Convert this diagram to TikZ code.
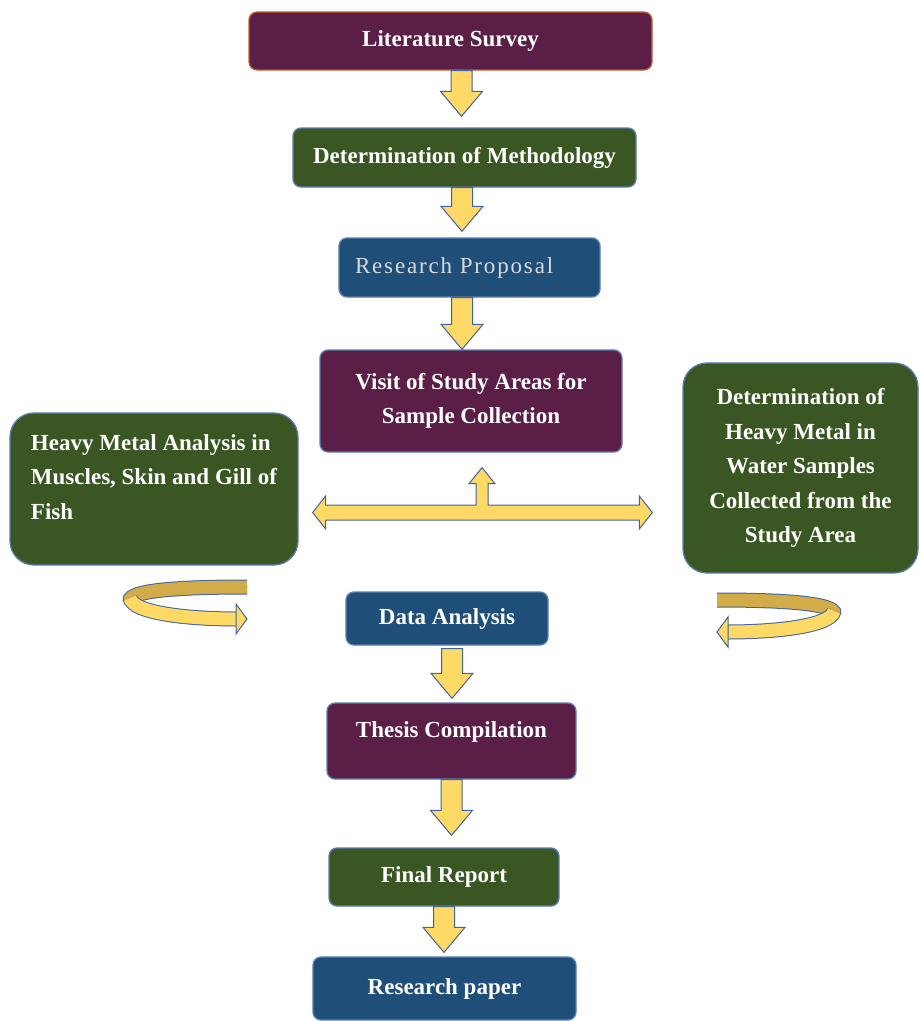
\documentclass[tikz,border=0pt]{standalone}
\usepackage{fontspec}
\setmainfont{Liberation Serif}
\newfontfamily\spacedfont[LetterSpace=8]{Liberation Serif}
\usetikzlibrary{calc}

\definecolor{boxpurple}{HTML}{5B1F47}
\definecolor{boxgreen}{HTML}{3A5622}
\definecolor{boxblue}{HTML}{1F4E79}
\definecolor{rimblue}{HTML}{5B7DB1}
\definecolor{rimorange}{HTML}{C0602A}
\definecolor{proptext}{HTML}{DADADA}
\definecolor{arrowyellow}{HTML}{FFD966}
\definecolor{arrowback}{HTML}{D2AC48}
\definecolor{arrowrim}{HTML}{3E63A0}

\tikzset{
  stage/.style={rounded corners=8pt, draw=rimblue, line width=1.3pt, text=white,
    font=\bfseries\fontsize{23}{34.5}\selectfont, align=center, inner sep=0pt},
  purplestage/.style={stage, fill=boxpurple},
  greenstage/.style={stage, fill=boxgreen},
  bluestage/.style={stage, fill=boxblue},
  blockarrow/.style={fill=arrowyellow, draw=arrowrim, line width=1pt, line join=miter},
  ribbon/.style={line width=13pt, line cap=butt, draw=#1,
    preaction={draw=arrowrim, line width=15pt}},
  turn/.pic={
    \draw[ribbon=arrowback] (0,-32) .. controls (-90,-32) and (-120,-26) .. (-117,-17);
    \draw[ribbon=arrowyellow] (-117,-21) .. controls (-114,-6) and (-60,0) .. (-10,0);
    \draw[blockarrow] (-11,-15) -- (0,0) -- (-11,15) -- cycle;
  }
}

% yellow block arrow: start point, tip point
\newcommand\flowarrow[2]{%
  \draw[blockarrow] let \p1=#1, \p2=#2 in
    (\x1-10.5pt,\y1) -- (\x1+10.5pt,\y1) -- (\x1+10.5pt,\y2+25pt) -- (\x1+21pt,\y2+25pt)
    -- (\x1,\y2) -- (\x1-21pt,\y2+25pt) -- (\x1-10.5pt,\y2+25pt) -- cycle;}

\begin{document}
\begin{tikzpicture}[x=1pt,y=-1pt]
\useasboundingbox (0,0) rectangle (920,1021);

% main column
\node[purplestage, draw=rimorange, minimum width=403pt, minimum height=58pt] (lit) at (450.5,41) {Literature Survey};
\node[greenstage, minimum width=343pt, minimum height=59pt] (meth) at (464.5,157.5) {Determination of Methodology};
\node[bluestage, minimum width=261pt, minimum height=59pt, text width=229pt, inner xsep=16pt, align=left,
  font=\spacedfont\fontsize{23}{34.5}\selectfont, text=proptext] (prop) at (469.5,267.5) {Research Proposal};
\node[purplestage, minimum width=302pt, minimum height=102pt] (visit) at (471,401) {Visit of Study Areas for\\ Sample Collection};
\node[bluestage, minimum width=202pt, minimum height=53pt] (data) at (447,618.5) {Data Analysis};
\node[purplestage, minimum width=249pt, minimum height=76pt] (thesis) at (451.5,741) {Thesis Compilation\\[-12pt]~};
\node[greenstage, minimum width=230pt, minimum height=58pt] (final) at (444,877) {Final Report};
\node[bluestage, minimum width=263pt, minimum height=63pt] (paper) at (444.5,988.5) {Research paper};

% side boxes
\node[greenstage, rounded corners=24pt, minimum width=288pt, minimum height=152pt, align=left] (heavy) at (154,489)
  {Heavy Metal Analysis in\\ Muscles, Skin and Gill of\\ Fish\\[-10pt]~};
\node[greenstage, rounded corners=24pt, minimum width=235pt, minimum height=210pt] (water) at (800.5,468)
  {Determination of\\ Heavy Metal in\\ Water Samples\\ Collected from the\\ Study Area};

% arrows down the column
\flowarrow{($(lit.south)+(11,0)$)}{($(meth.north)+(0,-11)$)}
\flowarrow{($(meth.south)+(-2.5,0)$)}{($(prop.north)+(0,-6)$)}
\flowarrow{($(prop.south)+(-7.5,0)$)}{(visit.north)}
\flowarrow{($(data.south)+(5,3)$)}{($(thesis.north)+(0,-4)$)}
\flowarrow{(thesis.south)}{($(final.north)+(0,-12)$)}
\flowarrow{(final.south)}{($(paper.north)+(0,-4)$)}

% branching arrow
\coordinate (hub) at (482,512.5);
\draw[blockarrow] let \p1=(heavy.east), \p2=(water.west), \p3=(hub), \p4=(visit.south) in
  (\x1+14pt,\y3) -- (\x1+27pt,\y3+16.5pt) -- (\x1+27pt,\y3+7.5pt) -- (\x3-6pt,\y3+7.5pt)
  -- (\x3-6pt,\y4-31pt) -- (\x3-13pt,\y4-31pt) -- (\x3,\y4-15pt) -- (\x3+13pt,\y4-31pt)
  -- (\x3+6pt,\y4-31pt) -- (\x3+6pt,\y3+7.5pt) -- (\x2-43pt,\y3+7.5pt) -- (\x2-43pt,\y3+16.5pt)
  -- (\x2-30pt,\y3) -- (\x2-43pt,\y3-16.5pt) -- (\x2-43pt,\y3-7.5pt) -- (\x1+27pt,\y3-7.5pt)
  -- (\x1+27pt,\y3-16.5pt) -- cycle;

% turning arrows
\pic at (247,619) {turn};
\pic[xscale=-1] at (717,632) {turn};
\end{tikzpicture}
\end{document}
